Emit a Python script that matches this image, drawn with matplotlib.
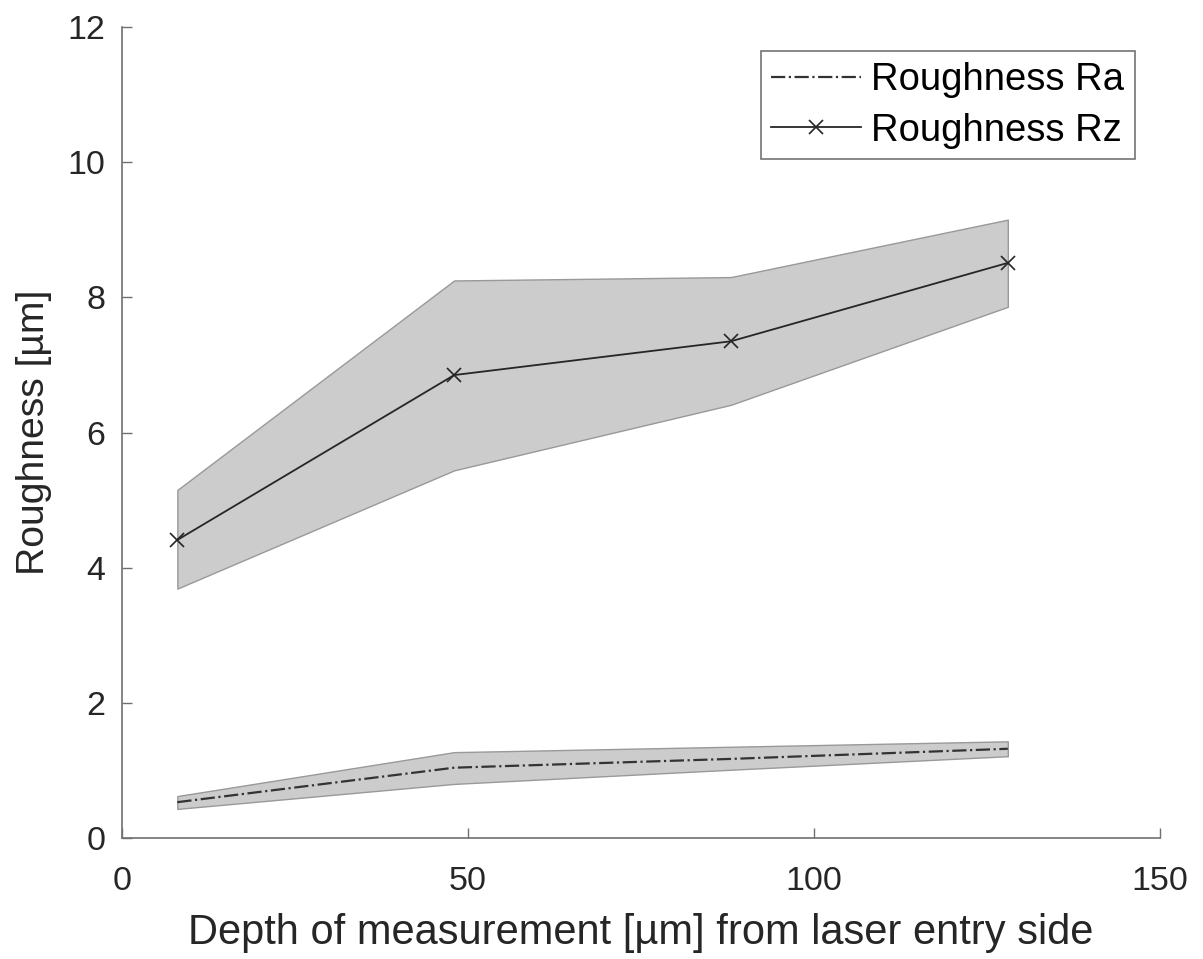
import matplotlib
matplotlib.use("Agg")
import matplotlib.pyplot as plt

plt.rcParams["font.family"] = ["Liberation Sans", "DejaVu Sans"]

# depth of measurement [um]
depth = [8, 48, 88, 128]

# roughness Ra with band
ra_mean = [0.53, 1.04, 1.17, 1.32]
ra_upper = [0.62, 1.27, 1.35, 1.43]
ra_lower = [0.43, 0.80, 1.01, 1.21]

# roughness Rz with band
rz_mean = [4.41, 6.85, 7.35, 8.51]
rz_upper = [5.15, 8.25, 8.30, 9.15]
rz_lower = [3.69, 5.44, 6.41, 7.86]

x_ticks = [0, 50, 100, 150]
y_ticks = [0, 2, 4, 6, 8, 10, 12]

text_col = "#262626"
axis_col = "#707070"

fig = plt.figure(figsize=(12.03, 9.59), dpi=100)
ax = fig.add_axes([0.1014, 0.1262, 0.8629, 0.8456])

ax.fill_between(depth, ra_lower, ra_upper, facecolor="#cccccc", edgecolor="#999999", linewidth=1.0)
ax.fill_between(depth, rz_lower, rz_upper, facecolor="#cccccc", edgecolor="#999999", linewidth=1.0)

ax.plot(depth, ra_mean, linestyle="-.", color="#333333", linewidth=1.6, label="Roughness Ra")
ax.plot(depth, rz_mean, linestyle="-", marker="x", markersize=10, markeredgewidth=1.2,
        color="#262626", linewidth=1.3, label="Roughness Rz")

ax.set_xlim(0, 150)
ax.set_ylim(0, 12)
ax.set_xticks(x_ticks)
ax.set_yticks(y_ticks)

for side in ["top", "right"]:
    ax.spines[side].set_visible(False)
for side in ["left", "bottom"]:
    ax.spines[side].set_color(axis_col)
    ax.spines[side].set_linewidth(1.2)

ax.tick_params(direction="in", length=7, width=1.0, color=axis_col, labelcolor=text_col, labelsize=24.5)
ax.tick_params(axis="x", pad=20)
ax.tick_params(axis="y", pad=12)

ax.set_xlabel("Depth of measurement [µm] from laser entry side", fontsize=30, color=text_col, labelpad=12)
ax.set_ylabel("Roughness [µm]", fontsize=28.2, color=text_col, labelpad=11)

leg = ax.legend(loc="upper right", bbox_to_anchor=(0.976, 0.970), fontsize=27.5, frameon=True, fancybox=False,
                handlelength=2.35, borderpad=0.28, labelspacing=0.38, handletextpad=0.27, borderaxespad=0)
leg.get_frame().set_edgecolor("#505050")
leg.get_frame().set_linewidth(1.2)
for t in leg.get_texts():
    t.set_color("black")

fig.savefig("out.png", dpi=100)
